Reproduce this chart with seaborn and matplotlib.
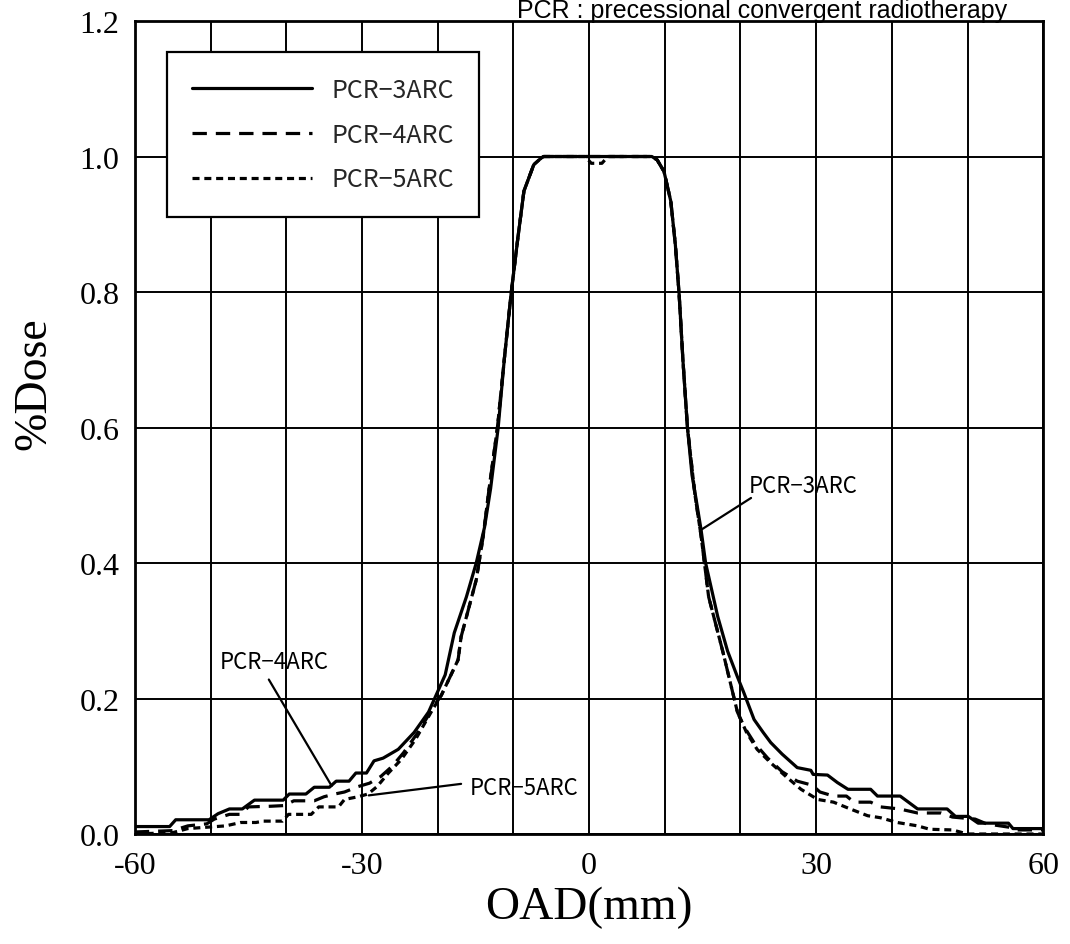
import pandas as pd
import seaborn as sns
import matplotlib.pyplot as plt

# Dose profiles (OAD in mm, relative dose)
oad_3arc = [-60, -55.4, -54.6, -50.2, -49.0, -47.5, -45.8, -44.2, -40.4, -39.6, -37.4, -36.3,
            -34.3, -33.4, -31.7, -30.8, -29.4, -28.4, -27.2, -25.2, -23.1, -21.2, -20.4, -19.0,
            -17.8, -16.2, -14.9, -13.8, -13.0, -12.0, -11.2, -10.3, -9.4, -8.6, -7.3, -6.3, -6.0,
            8.3, 9.0, 9.9, 10.8, 11.4, 11.9, 12.4, 13.0, 13.6, 14.1, 14.8, 15.4, 17.0, 18.3,
            19.6, 20.4, 21.8, 23.0, 24.0, 25.5, 27.5, 29.3, 29.6, 31.5, 32.8, 34.2, 37.2, 38.1,
            41.1, 43.4, 47.3, 48.4, 50.1, 51.4, 55.4, 56.0, 60]
dose_3arc = [0.011, 0.011, 0.021, 0.021, 0.030, 0.037, 0.037, 0.050, 0.050, 0.059, 0.059, 0.069,
             0.069, 0.078, 0.078, 0.090, 0.090, 0.108, 0.112, 0.125, 0.150, 0.180, 0.200, 0.235,
             0.297, 0.350, 0.400, 0.453, 0.510, 0.600, 0.700, 0.797, 0.880, 0.949, 0.988, 0.998, 1.0,
             1.0, 0.995, 0.978, 0.934, 0.870, 0.797, 0.700, 0.600, 0.530, 0.497, 0.449, 0.400, 0.321, 0.270,
             0.232, 0.210, 0.169, 0.150, 0.135, 0.118, 0.098, 0.094, 0.088, 0.087, 0.076, 0.066, 0.066, 0.056,
             0.056, 0.037, 0.037, 0.026, 0.026, 0.016, 0.016, 0.008, 0.008]

oad_4arc = [-60, -55.0, -53.0, -50.5, -49.5, -47.5, -46.0, -45.0, -42.0, -40.2, -39.0, -36.3,
            -35.0, -33.6, -32.3, -30.5, -29.0, -27.5, -26.0, -24.5, -22.6, -20.4, -19.5, -17.3,
            -16.9, -14.9, -14.0, -13.2, -12.1, -11.2, -10.3, -9.4, -8.6, -7.3, -6.3, -6.0,
            8.3, 9.0, 9.9, 10.8, 11.4, 11.9, 12.4, 13.0, 14.0, 14.8, 15.8, 17.7, 19.6, 20.5,
            21.8, 23.6, 25.5, 27.5, 29.5, 30.5, 32.3, 34.0, 35.0, 37.2, 38.5, 41.0, 43.4, 46.5,
            48.0, 51.0, 52.5, 55.5, 56.5, 60]
dose_4arc = [0.003, 0.005, 0.012, 0.015, 0.022, 0.029, 0.029, 0.040, 0.041, 0.042, 0.049, 0.049,
             0.055, 0.059, 0.062, 0.070, 0.075, 0.085, 0.100, 0.120, 0.150, 0.190, 0.205, 0.257,
             0.291, 0.375, 0.438, 0.510, 0.600, 0.700, 0.797, 0.880, 0.949, 0.988, 0.998, 1.0,
             1.0, 0.995, 0.978, 0.934, 0.870, 0.797, 0.700, 0.600, 0.500, 0.440, 0.350, 0.268, 0.180, 0.158,
             0.135, 0.112, 0.092, 0.078, 0.072, 0.062, 0.056, 0.056, 0.047, 0.047, 0.040, 0.037, 0.031, 0.031,
             0.025, 0.022, 0.015, 0.010, 0.006, 0.006]

oad_5arc = [-60, -55.0, -53.0, -50.5, -48.0, -46.0, -44.0, -43.0, -40.5, -39.7, -36.7, -35.7,
            -33.1, -32.3, -30.5, -29.2, -28.0, -26.5, -24.8, -22.9, -20.6, -19.5, -17.3,
            -16.9, -14.9, -14.0, -13.2, -12.1, -11.2, -10.3, -9.4, -8.6, -7.3, -6.3, -6.0,
            -0.5, 0.3, 1.7, 2.5,
            8.3, 9.0, 9.9, 10.8, 11.4, 11.9, 12.4, 13.0, 14.0, 14.8, 15.8, 17.7, 19.6, 20.8,
            22.2, 24.0, 26.0, 28.0, 30.2, 32.3, 34.5, 36.8, 38.5, 40.7, 43.4, 45.0, 48.0, 50.0, 60]
dose_5arc = [0.0, 0.002, 0.008, 0.010, 0.012, 0.017, 0.017, 0.019, 0.019, 0.029, 0.029, 0.040,
             0.040, 0.051, 0.055, 0.059, 0.070, 0.090, 0.110, 0.140, 0.185, 0.205, 0.257,
             0.291, 0.375, 0.438, 0.510, 0.600, 0.700, 0.797, 0.880, 0.949, 0.988, 0.998, 1.0,
             1.0, 0.990, 0.990, 1.0,
             1.0, 0.995, 0.978, 0.934, 0.870, 0.797, 0.700, 0.600, 0.500, 0.440, 0.350, 0.268, 0.180, 0.150,
             0.125, 0.105, 0.085, 0.066, 0.051, 0.047, 0.037, 0.027, 0.024, 0.017, 0.012, 0.007, 0.006, 0.0, 0.0]

series_names = ['PCR−3ARC', 'PCR−4ARC', 'PCR−5ARC']

# callout labels: (text, text x, text y, point x, point y, line start x, line start y)
callouts = [
    ('PCR−3ARC', 21.1, 0.515, 14.8, 0.449, 21.4, 0.496),
    ('PCR−4ARC', -48.8, 0.254, -34.0, 0.071, -42.3, 0.228),
    ('PCR−5ARC', -15.8, 0.069, -29.1, 0.057, -16.9, 0.074),
]

df = pd.concat([
    pd.DataFrame({'OAD': oad_3arc, 'Dose': dose_3arc, 'Series': series_names[0]}),
    pd.DataFrame({'OAD': oad_4arc, 'Dose': dose_4arc, 'Series': series_names[1]}),
    pd.DataFrame({'OAD': oad_5arc, 'Dose': dose_5arc, 'Series': series_names[2]}),
])

sns.set_theme(style='white')
plt.rcParams['font.family'] = ['Liberation Serif', 'DejaVu Serif']
plt.rcParams['axes.unicode_minus'] = False

fig = plt.figure(figsize=(10.7, 9.45), dpi=100)
ax = fig.add_axes([0.126, 0.1164, 0.849, 0.8603])

sns.lineplot(data=df, x='OAD', y='Dose', style='Series', style_order=series_names,
             dashes={series_names[0]: '', series_names[1]: (4.5, 2.8), series_names[2]: (2.2, 1.5)},
             color='black', linewidth=2.3, estimator=None, sort=False, ax=ax, zorder=3)

ax.set_xlim(-60, 60)
ax.set_ylim(0, 1.2)
ax.set_xticks([-60, -30, 0, 30, 60])
ax.set_xticks(range(-60, 61, 10), minor=True)
ax.set_yticks([0, 0.2, 0.4, 0.6, 0.8, 1.0, 1.2])
ax.set_yticklabels(['0.0', '0.2', '0.4', '0.6', '0.8', '1.0', '1.2'])
ax.grid(True, which='both', color='black', linewidth=1.4)
ax.tick_params(axis='both', which='both', length=0, labelsize=23, colors='black')
ax.tick_params(axis='y', pad=11)
ax.tick_params(axis='x', pad=12)
for sp in ax.spines.values():
    sp.set_color('black')
    sp.set_linewidth(2)

ax.set_xlabel('OAD(mm)', fontsize=34, color='black', labelpad=4)
ax.set_ylabel('%Dose', fontsize=33, color='black')
ax.yaxis.set_label_coords(-0.088, 0.555)

handles, labels = ax.get_legend_handles_labels()
leg = ax.legend(handles, labels, loc='upper left', bbox_to_anchor=(0.035, 0.962),
                borderaxespad=0, frameon=True, fancybox=False, framealpha=1, edgecolor='black',
                prop={'family': ['Noto Sans CJK JP', 'DejaVu Sans'], 'size': 18},
                handlelength=4.8, handletextpad=0.8, labelspacing=0.75, borderpad=1.0)
leg.get_frame().set_linewidth(1.6)
for line in leg.get_lines():
    line.set_linewidth(2.3)

for label, tx, ty, px, py, lx, ly in callouts:
    ax.text(tx, ty, label, fontsize=16, family=['Noto Sans CJK JP', 'DejaVu Sans'],
            ha='left', va='center', color='black', zorder=4)
    ax.plot([lx, px], [ly, py], color='black', linewidth=1.6, zorder=4)

fig.text(0.483, 0.981, 'PCR : precessional convergent radiotherapy', fontsize=18,
         family=['Liberation Sans', 'DejaVu Sans'], ha='left', va='baseline', color='black')

fig.savefig('out.png', dpi=100)
